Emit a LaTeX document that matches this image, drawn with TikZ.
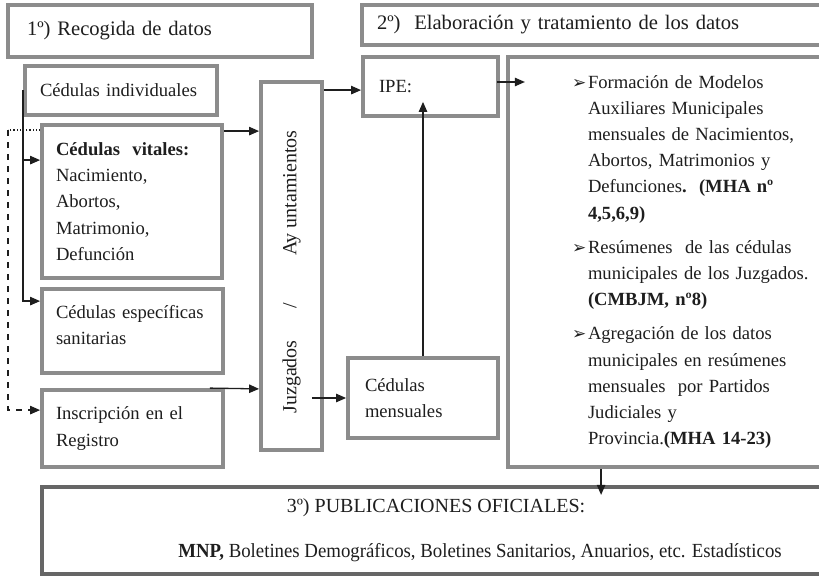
\documentclass[tikz,border=0pt]{standalone}
\usepackage{fontspec}
\setmainfont{Liberation Serif}
\newfontfamily\arrowfont{DejaVu Sans}
\usepackage{graphicx}
\usetikzlibrary{arrows.meta, positioning, calc}
\definecolor{boxgray}{HTML}{8C8C8C}
\definecolor{pubgray}{HTML}{666666}
\definecolor{inkgray}{HTML}{1E1E1E}
\hyphenpenalty=10000
\newcommand{\mhabullet}{\hspace*{32pt}\makebox[8pt][l]{\arrowfont\fontsize{8.5}{8.5}\selectfont ➢}}
\newcommand{\mhaindent}{\hspace*{40pt}}
\tikzset{
  box/.style={draw=boxgray, line width=1.9pt, align=left, inner xsep=8pt, inner ysep=0pt,
              font=\fontsize{9.3}{13.1}\selectfont, text=inkgray},
  headbox/.style={box, font=\fontsize{10.3}{12}\selectfont},
  arrow/.style={-{Triangle[length=5pt,width=4.2pt]}, line width=0.65pt, draw=inkgray}
}

\begin{document}
\begin{tikzpicture}[x=0.5pt, y=-0.5pt]
  \useasboundingbox (0,0) rectangle (819,577);
  \fill[white] (0,0) rectangle (819,577);

  % headings
  \node[headbox, text width=133pt, minimum height=26pt, inner xsep=9.5pt] (rec) at (160,31) {1º) Recogida de datos};
  \node[headbox, text width=219pt, minimum height=20pt, inner xsep=7.5pt] (ela) at (596,25) {2º)\ \ Elaboración y tratamiento de los datos};

  % left column
  \node[box, text width=81pt, minimum height=24.5pt, inner xsep=7.5pt] (indiv) at (121,90.5) {Cédulas individuales};
  \node[box, text width=76pt, minimum height=76.5pt, inner xsep=7pt] (vital) at (132,201.5) {\textbf{Cédulas\ \ vitales:}\\Nacimiento,\\Abortos,\\Matrimonio,\\Defunción};
  \node[box, text width=76.5pt, minimum height=42pt, inner xsep=7pt] (espec) at (132.5,331) {Cédulas específicas\\sanitarias\\[-7pt]\mbox{}};
  \node[box, text width=76.5pt, minimum height=38.5pt, inner xsep=7pt] (insc) at (132.5,428.5) {Inscripción en el\\Registro};

  \node[box, align=center, inner xsep=0pt, minimum width=30.5pt, minimum height=184pt, font=\fontsize{10}{12}\selectfont] (ayto) at (291.5,266)
    {\rotatebox{90}{Juzgados\hspace{16pt}/\hspace{23.5pt}Ay untamientos\hspace{6pt}}};

  % middle and right
  \node[box, text width=51.5pt, minimum height=29.5pt] (ipe) at (430.5,86.5) {IPE:};
  \node[box, text width=58pt, minimum height=40pt, inner xsep=8.5pt] (mens) at (423,398) {Cédulas\\mensuales};
  \node[box, text width=161pt, minimum height=205pt, inner xsep=0pt] (big) at (669,262) {%
    \mhabullet Formación de Modelos\\
    \mhaindent Auxiliares Municipales\\
    \mhaindent mensuales de Nacimientos,\\
    \mhaindent Abortos, Matrimonios y\\
    \mhaindent Defunciones\textbf{.\ \ (MHA nº}\\
    \mhaindent\textbf{4,5,6,9)}\\[4pt]
    \mhabullet Resúmenes\ \ de las cédulas\\
    \mhaindent municipales de los Juzgados.\\
    \mhaindent\textbf{(CMBJM, nº8)}\\[4pt]
    \mhabullet Agregación de los datos\\
    \mhaindent municipales en resúmenes\\
    \mhaindent mensuales\ \ por Partidos\\
    \mhaindent Judiciales y\\
    \mhaindent Provincia.\textbf{(MHA 14-23)}};

  \node[box, draw=pubgray, line width=2.1pt, align=center, minimum width=394pt, minimum height=43.5pt, font=\fontsize{10}{22.5}\selectfont] (pub) at (436,530.5)
    {3º) PUBLICACIONES OFICIALES:\\\hspace*{44pt}\scalebox{0.94}[1]{\textbf{MNP,} Boletines Demográficos, Boletines Sanitarios, Anuarios, etc. Estadísticos}};

  % connectors
  \draw[arrow] (indiv.west) |- ($(vital.north west)+(0,37)$);
  \draw[arrow] (indiv.west) |- ($(espec.north west)+(0,14)$);
  \draw[densely dotted, draw=inkgray, line width=0.6pt] ($(vital.north west)+(0,7)$) -- ++(-32,0) coordinate (dtop);
  \draw[arrow, dashed] (dtop) |- ($(insc.north west)+(0,22)$);

  \draw[arrow] ($(vital.north east)+(0,8)$) -- ($(ayto.north west)+(0,51)$);
  \draw[arrow] ($(insc.north east)+(-15,0)$) -- ($(ayto.south west)+(0,-63)$);
  \draw[arrow] ($(ayto.north east)+(0,10)$) -- ($(ipe.north west)+(0,35)$);
  \draw[arrow] ($(ayto.east |- mens.west)+(-12,0)$) -- (mens.west);
  \draw[arrow] (mens.north) -- ($(ipe.south)+(-7.5,-16)$);
  \draw[arrow] ($(ipe.east)+(-3,-4.5)$) -- ++(28,0);
  \draw[arrow] ($(big.south west)+(95,0)$) -- ++(0,26);
\end{tikzpicture}
\end{document}
